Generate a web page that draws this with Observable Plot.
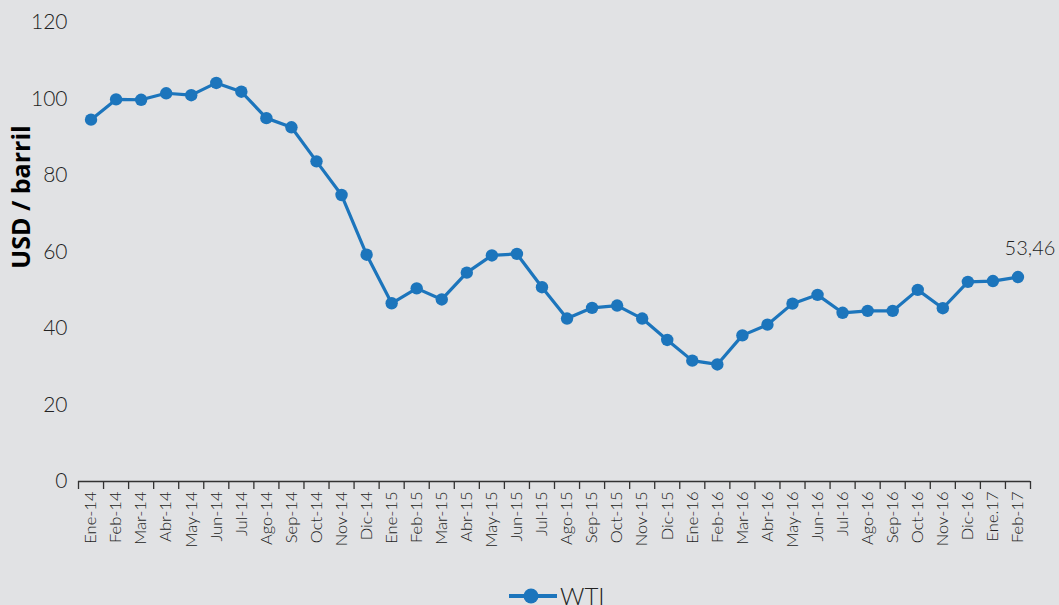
<!DOCTYPE html>
<html>
<head>
<meta charset="utf-8">
<script src="https://cdn.jsdelivr.net/npm/d3@7"></script>
<script src="https://cdn.jsdelivr.net/npm/@observablehq/plot@0.6"></script>
<style>
  html, body { margin: 0; padding: 0; background: #e1e2e4; overflow: hidden; }
  body { width: 1059px; height: 605px; position: relative; font-family: Lato, "Open Sans", sans-serif; }
  #chart svg { display: block; background: #e1e2e4; }
  #legend { position: absolute; left: 0; top: 583px; width: 1059px; height: 30px; }
  #legend .item { position: absolute; left: 508px; top: 0; display: flex; align-items: center; gap: 2px; }
  #legend span { font-size: 24px; font-weight: 300; color: #222; line-height: 26px; }
</style>
</head>
<body>
<div id="chart"></div>
<div id="legend"><div class="item"><svg width="50" height="26"><line x1="1" x2="49" y1="13" y2="13" stroke="#1c75bc" stroke-width="4"/><circle cx="23" cy="13" r="7.5" fill="#1c75bc"/></svg><span>WTI</span></div></div>
<script>
const months = ["Ene-14","Feb-14","Mar-14","Abr-14","May-14","Jun-14","Jul-14","Ago-14","Sep-14","Oct-14","Nov-14","Dic-14",
  "Ene-15","Feb-15","Mar-15","Abr-15","May-15","Jun-15","Jul-15","Ago-15","Sep-15","Oct-15","Nov-15","Dic-15",
  "Ene-16","Feb-16","Mar-16","Abr-16","May-16","Jun-16","Jul-16","Ago-16","Sep-16","Oct-16","Nov-16","Dic-16",
  "Ene.17","Feb-17"];
const wti = [94.6, 99.9, 99.8, 101.5, 101.0, 104.2, 101.9, 95.0, 92.6, 83.7, 74.9, 59.3,
  46.6, 50.5, 47.6, 54.6, 59.1, 59.5, 50.8, 42.6, 45.4, 46.0, 42.6, 37.0,
  31.6, 30.6, 38.2, 41.0, 46.5, 48.8, 44.1, 44.6, 44.6, 50.1, 45.3, 52.2,
  52.4, 53.46];
const yTicks = [0, 20, 40, 60, 80, 100, 120];
const lastLabel = "53,46";
const yTitle = "USD / barril";

const data = months.map((m, i) => ({pos: i + 0.5, month: m, value: wti[i]}));
const boundaries = d3.range(months.length + 1);
const centers = data.map(d => d.pos);
const color = "#1c75bc";

const chart = Plot.plot({
  width: 1059,
  height: 583,
  marginLeft: 78,
  marginRight: 29,
  marginTop: 22,
  marginBottom: 102,
  style: {fontFamily: "Lato, 'Open Sans', sans-serif", background: "#e1e2e4", color: "#333"},
  x: {type: "linear", domain: [0, months.length], axis: null},
  y: {domain: [0, 120], axis: null},
  marks: [
    Plot.axisY({ticks: yTicks, tickSize: 0, tickPadding: 11, fontSize: 21, fontWeight: 300, label: null, fill: "#222"}),
    Plot.axisX({ticks: boundaries, tickSize: 8, tickFormat: () => "", label: null, stroke: "#333", strokeWidth: 1.3}),
    Plot.axisX(centers, {tickSize: 0, tickPadding: 10, tickRotate: -90, fontSize: 16.5, fontWeight: 300, label: null, fill: "#222",
      tickFormat: d => months[Math.floor(d)]}),
    Plot.ruleY([0], {stroke: "#333", strokeWidth: 1.3}),
    Plot.line(data, {x: "pos", y: "value", stroke: color, strokeWidth: 3.2}),
    Plot.dot(data, {x: "pos", y: "value", fill: color, r: 6.2}),
    Plot.text([data[data.length - 1]], {x: "pos", y: "value", text: () => lastLabel, dx: 12, dy: -28, fontSize: 20, fontWeight: 300, fill: "#222"}),
    Plot.text([yTitle], {frameAnchor: "left", textAnchor: "middle", text: d => d, rotate: -90, dx: -57, dy: -55, fontSize: 25, fontWeight: "bold", fontFamily: "'Open Sans', Lato, sans-serif", fill: "#000"})
  ]
});
document.getElementById("chart").appendChild(chart);
</script>
</body>
</html>
